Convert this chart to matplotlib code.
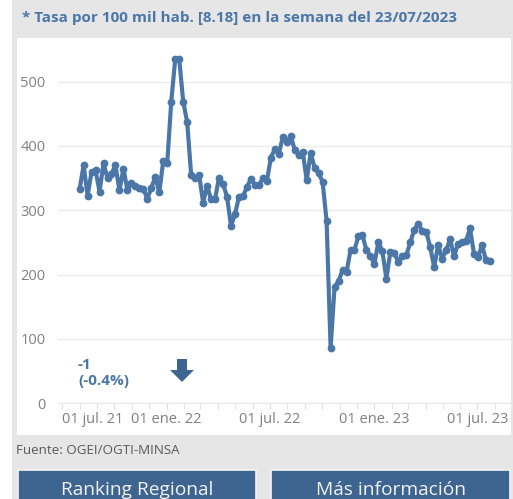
import datetime as dt

import matplotlib
matplotlib.use("Agg")
import matplotlib.pyplot as plt
import matplotlib.dates as mdates
from matplotlib.patches import Rectangle, Polygon

# weekly rate per 100k inhabitants, first week ending 01/08/2021, last 23/07/2023
first_week = dt.date(2021, 8, 1)
rates = [333, 370, 323, 360, 362, 329, 373, 350, 357, 370,
         331, 365, 331, 342, 338, 335, 333, 318, 335, 352,
         328, 377, 374, 469, 535, 535, 469, 437, 355, 350,
         355, 312, 338, 317, 318, 351, 341, 321, 276, 294,
         321, 322, 336, 349, 339, 339, 350, 345, 382, 395,
         388, 414, 406, 415, 394, 386, 391, 347, 389, 366,
         358, 344, 283, 86, 181, 190, 207, 204, 238, 239,
         260, 261, 238, 229, 217, 251, 236, 194, 235, 233,
         220, 229, 230, 250, 270, 279, 268, 267, 243, 212,
         246, 225, 238, 255, 229, 248, 250, 252, 272, 232,
         227, 246, 223, 221]
weeks = [first_week + dt.timedelta(weeks=i) for i in range(len(rates))]

y_ticks = [0, 100, 200, 300, 400, 500]
x_ticks = [dt.date(2021, 7, 1), dt.date(2022, 1, 1), dt.date(2022, 7, 1),
           dt.date(2023, 1, 1), dt.date(2023, 7, 1)]
x_labels = ["01 jul. 21", "01 ene. 22", "01 jul. 22", "01 ene. 23", "01 jul. 23"]

title = "* Tasa por 100 mil hab. [8.18] en la semana del 23/07/2023"
change_text = "-1\n(-0.4%)"
source = "Fuente: OGEI/OGTI-MINSA"
buttons = ["Ranking Regional", "Más información"]

W, H = 513, 499
blue = "#4a77a8"
dark_blue = "#3e6590"
grey_txt = "#808080"

plt.rcParams["font.family"] = ["Open Sans", "DejaVu Sans"]

fig = plt.figure(figsize=(W / 100, H / 100), dpi=100)
fig.patch.set_facecolor("white")


def px(x, y):
    # pixel position (top-left origin) -> figure fraction
    return x / W, 1 - y / H


def add_rect(x0, y0, x1, y1, **kw):
    fx0, fy1 = px(x0, y1)
    fig.patches.append(Rectangle((fx0, fy1), (x1 - x0) / W, (y1 - y0) / H,
                                 transform=fig.transFigure, **kw))


# panel background
add_rect(12, 0, W, H, facecolor="#e6e6e6", edgecolor="none", zorder=-2)
add_rect(17, 38, 511, 435, facecolor="white", edgecolor="none", zorder=-1)

fig.text(*px(22, 18), title, color=blue, fontsize=11, fontweight="bold",
         va="center", ha="left")

ax = fig.add_axes([58 / W, 1 - 403.3 / H, (511 - 58) / W, (403.3 - 45) / H])
ax.set_zorder(2)
ax.set_facecolor("none")
ax.plot(weeks, rates, color=blue, lw=3, marker="o", ms=5.6,
        markeredgewidth=0, solid_joinstyle="round", zorder=3)

ax.set_ylim(0, 557)
ax.set_xlim(dt.date(2021, 6, 24), dt.date(2023, 8, 29))
ax.set_yticks(y_ticks)
ax.set_yticklabels([str(v) for v in y_ticks])
ax.set_xticks(x_ticks)
ax.set_xticklabels(x_labels)
ax.xaxis.set_minor_locator(mdates.MonthLocator())
ax.grid(axis="y", color="#ececec", lw=1)
ax.set_axisbelow(True)
for s in ["top", "right", "left"]:
    ax.spines[s].set_visible(False)
ax.spines["bottom"].set_color("#e8e8e8")
ax.tick_params(axis="y", length=0, pad=9, labelsize=10.5, labelcolor=grey_txt)
ax.tick_params(axis="x", which="both", length=4, color="#dddddd",
               labelsize=10.5, labelcolor=grey_txt, pad=2)
ax.get_xticklabels()[0].set_horizontalalignment("left")

# change annotation and down arrow
fig.text(*px(78, 373), change_text, color=blue, fontsize=11, fontweight="bold",
         va="center", ha="left", linespacing=1.25)
arrow = [(177, 359), (187, 359), (187, 370), (194, 370), (182, 382), (170, 370), (177, 370)]
fig.patches.append(Polygon([px(x, y) for x, y in arrow], closed=True,
                           transform=fig.transFigure, facecolor=dark_blue,
                           edgecolor="none", zorder=5))

fig.text(*px(16, 451), source, color="#595959", fontsize=9.6, va="center", ha="left")

# buttons
for (x0, x1), label in zip([(18, 256), (271, 510)], buttons):
    add_rect(x0, 470, x1, H + 5, facecolor=dark_blue, edgecolor="#f4f4f4", lw=1.2, zorder=1)
    fig.text(*px((x0 + x1) / 2, 481), label, color="#f2f2f2", fontsize=13.8,
             va="top", ha="center")

fig.savefig("out.png", dpi=100)
